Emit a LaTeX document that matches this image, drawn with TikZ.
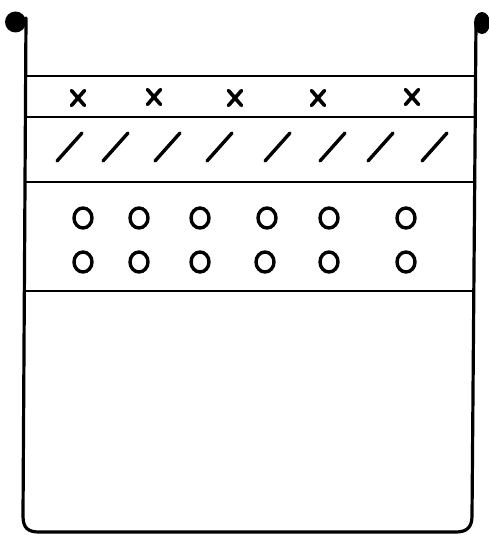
\documentclass[tikz,border=0pt]{standalone}
\begin{document}
\begin{tikzpicture}[x=1pt,y=-1pt,
  wall/.style={line width=3.2pt,line cap=round,line join=round},
  layer/.style={line width=2.6pt},
  xstroke/.style={line width=3.6pt,line cap=round},
  slashline/.style={line width=3.4pt,line cap=round},
  bead/.style={line width=3.4pt}]
\useasboundingbox (0,0) rectangle (489,535);
% container
\draw[wall] (26,18) -- (23,516) .. controls (23,528) and (28,532) .. (39,532)
  -- (456,532) .. controls (467,532) and (472,527) .. (472,516) -- (476,22);
\fill (15.5,22) circle (10.5);
\fill (482,23) ellipse (8 and 11);
% layer boundaries
\draw[layer] (25.7,76) -- (475.6,76);
\draw[layer] (25.5,117) -- (475.4,117);
\draw[layer] (25.1,182) -- (475,182);
\draw[layer] (24.5,291) -- (474.2,291);
% x marks
\foreach \cx/\cy in {78/98,154/97,235/98,318/98,412/97}{
  \draw[xstroke] (\cx-6.5,\cy-7.5) -- (\cx+6.5,\cy+7.5);
  \draw[xstroke] (\cx+6.5,\cy-7.5) -- (\cx-6.5,\cy+7.5);
}
% slashes
\foreach \sx in {57,103,155,207,265,320,368,422}{
  \draw[slashline] (\sx,161) -- (\sx+25,133);
}
% beads
\foreach \bx in {83,139,200,267,329,406}{
  \draw[bead] (\bx,218) ellipse (9 and 10);
}
\foreach \bx in {83,139,200,265,329,406}{
  \draw[bead] (\bx,262) ellipse (9 and 10);
}
\end{tikzpicture}
\end{document}
